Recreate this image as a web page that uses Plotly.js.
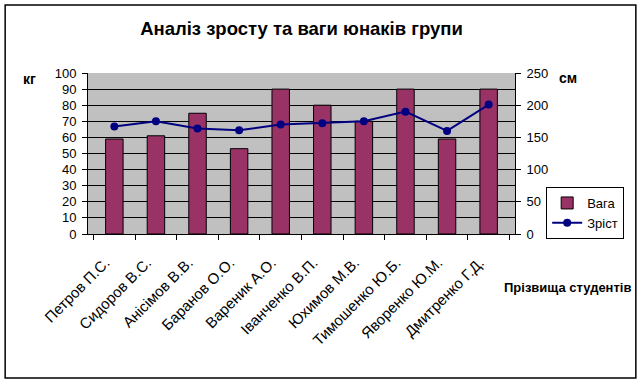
<!DOCTYPE html>
<html>
<head>
<meta charset="utf-8">
<script src="https://cdn.plot.ly/plotly-3.0.1.min.js"></script>
<style>body{margin:0;background:#fff}#chart{width:642px;height:384px}</style>
</head>
<body>
<div id="chart"></div>
<script>
const students = ["Петров П.С.", "Сидоров В.С.", "Анісімов В.В.", "Баранов О.О.", "Вареник А.О.", "Іванченко В.П.", "Юхимов М.В.", "Тимошенко Ю.Б.", "Яворенко Ю.М.", "Дмитренко Г.Д."];
const weight = [59, 61, 75, 53, 90, 80, 70, 90, 59, 90];
const height = [167, 175, 164, 161, 170, 172, 175, 190, 160, 201];

const F = "Liberation Sans, Arial, sans-serif";
const traces = [
  {type: "bar", name: "Вага", x: students, y: weight, width: 0.42,
   marker: {color: "#993366", line: {color: "#000000", width: 1}}},
  {type: "scatter", mode: "lines+markers", name: "Зріст", x: students, y: height, yaxis: "y2",
   line: {color: "#000080", width: 2}, marker: {color: "#000080", size: 8, symbol: "circle"}}
];
const layout = {
  width: 642, height: 384,
  margin: {l: 88, r: 127, t: 73, b: 150},
  paper_bgcolor: "#ffffff", plot_bgcolor: "#c0c0c0",
  font: {family: F, size: 13, color: "#000"},
  title: {text: "<b>Аналіз зросту та ваги юнаків групи</b>", font: {family: F, size: 18.5, color: "#000"},
          x: 0.5, xref: "paper", xanchor: "center", y: 0.925, yanchor: "middle"},
  showlegend: true,
  legend: {x: 1.073, y: 0.292, xanchor: "left", yanchor: "top", bgcolor: "#fff",
           bordercolor: "#000", borderwidth: 1, font: {family: F, size: 13}, tracegroupgap: 2},
  xaxis: {type: "category", tickangle: -45, tickson: "boundaries", ticks: "outside", ticklen: 5,
          tickcolor: "#000", showline: true, linecolor: "#000", linewidth: 1, showgrid: false,
          ticklabelstandoff: 13, ticklabelshift: -9,
          tickfont: {family: F, size: 15}, fixedrange: true},
  yaxis: {range: [0, 100], dtick: 10, ticks: "outside", ticklen: 5, tickcolor: "#000",
          showline: true, linecolor: "#000", gridcolor: "#000", gridwidth: 1, zeroline: false,
          ticklabelstandoff: 3,
          tickfont: {family: F, size: 13}, fixedrange: true},
  yaxis2: {range: [0, 250], dtick: 50, overlaying: "y", side: "right", ticks: "outside", ticklen: 5,
           tickcolor: "#000", showline: true, linecolor: "#000", showgrid: false, zeroline: false,
           ticklabelstandoff: 3,
           tickfont: {family: F, size: 13}, fixedrange: true},
  annotations: [
    {text: "<b>кг</b>", xref: "paper", yref: "paper", x: -0.136, y: 0.963, xanchor: "center", yanchor: "middle", showarrow: false, font: {family: F, size: 14}},
    {text: "<b>см</b>", xref: "paper", yref: "paper", x: 1.124, y: 0.969, xanchor: "center", yanchor: "middle", showarrow: false, font: {family: F, size: 14}},
    {text: "<b>Прізвища студентів</b>", xref: "paper", yref: "paper", x: 1.122, y: -0.33, xanchor: "center", yanchor: "middle", showarrow: false, font: {family: F, size: 13}}
  ],
  shapes: [
    {type: "rect", xref: "paper", yref: "paper", x0: -0.194, x1: 1.283, y0: -0.894, y1: 1.422,
     line: {color: "#000", width: 1.5}, fillcolor: "rgba(0,0,0,0)", layer: "below"}
  ]
};
Plotly.newPlot("chart", traces, layout, {displayModeBar: false, staticPlot: true});
</script>
</body>
</html>
